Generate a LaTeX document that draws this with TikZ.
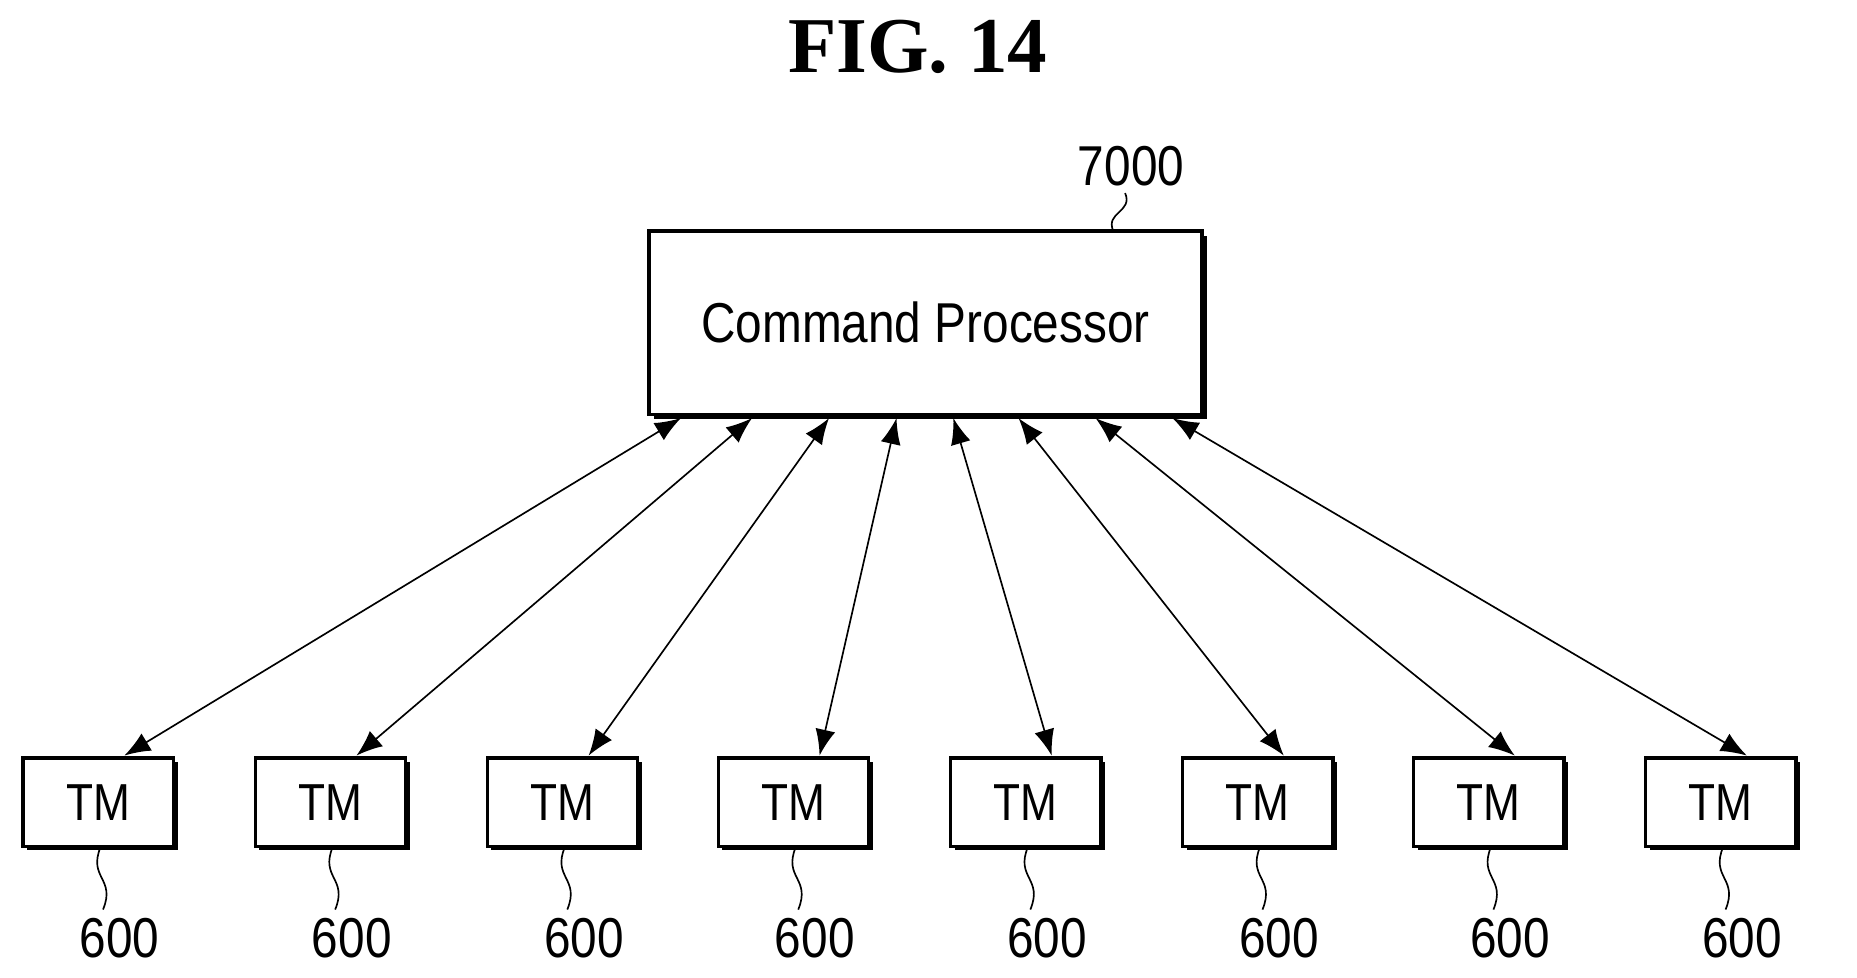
\documentclass[tikz,border=0pt]{standalone}
\usepackage{fontspec}
\setmainfont[FakeStretch=0.85]{Liberation Sans}
\newfontfamily\titlefont{Liberation Serif}
\usetikzlibrary{arrows.meta,calc}
\tikzset{
	block/.style = {draw, thick, rectangle, fill=white, inner sep=0pt},
	tm/.style    = {block, minimum width=1.27cm, minimum height=0.75cm, font=\fontsize{12.5}{14}\selectfont},
	lead/.style  = {thin},
	num/.style   = {font=\fontsize{13.5}{15}\selectfont}
}
\newcommand{\leader}[2]{\draw[lead] (#1) .. controls ($(#1)!0.5!(#2)+(-0.12,0)$) and ($(#1)!0.5!(#2)+(0.12,0)$) .. (#2);}

\begin{document}
\begin{tikzpicture}[>={Latex[length=2.2mm,width=1.7mm]}, thick]
	\useasboundingbox (0,0) rectangle (15.68,8.25);
	\node[font=\titlefont\bfseries\fontsize{19}{22}\selectfont] (title) at (7.75,7.85) {FIG. 14};

	% command processor
	\fill (5.52,4.71) rectangle (10.19,6.26);
	\node[block, minimum width=4.67cm, minimum height=1.55cm, font=\fontsize{13.5}{15}\selectfont] (cp) at (7.815,5.525) {Command Processor};
	\node[num] (n7000) at (9.55,6.85) {7000};
	\coordinate (c7000) at (9.40,6.30);
	\coordinate (e7000) at (9.50,6.62);
	\leader{c7000}{e7000}

	% TM blocks
	\foreach \i/\x/\top in {1/0.83/5.75, 2/2.79/6.35, 3/4.75/7.00, 4/6.70/7.57, 5/8.66/8.05, 6/10.62/8.60, 7/12.57/9.25, 8/14.53/9.90} {
		\fill (\x-0.60,1.07) rectangle (\x+0.67,1.82);
		\node[tm] (tm\i) at (\x,1.475) {TM};
		\node[num] (l\i) at (\x+0.18,0.33) {600};
		\coordinate (s\i) at (\x+0.02,1.10);
		\coordinate (t\i) at (\x+0.04,0.57);
		\leader{s\i}{t\i}
		\coordinate (a\i) at (\top,4.72);
		\coordinate (b\i) at (\x+0.22,1.87);
		\draw[thin, <->] (a\i) -- (b\i);
	}
\end{tikzpicture}
\end{document}
